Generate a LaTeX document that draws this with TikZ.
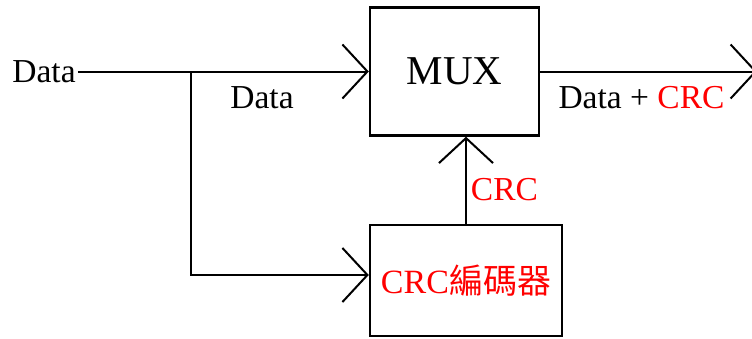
\documentclass[tikz,border=0pt]{standalone}
\usepackage{fontspec}
\setmainfont{Liberation Serif}
\newfontfamily\cjk{Noto Sans CJK TC}
\usetikzlibrary{arrows.meta,calc}
\begin{document}
\begin{tikzpicture}[x=1pt,y=-1pt,
  box/.style={draw,line width=2.4pt,inner sep=0pt,font=\fontsize{34}{40}\selectfont},
  lbl/.style={inner sep=2pt,font=\fontsize{33.5}{40}\selectfont},
  arr/.style={line width=2pt,-{Straight Barb[length=25pt,width=54pt,line width=2pt]}},
  ln/.style={line width=2pt}]
\useasboundingbox (0,0) rectangle (752,338);
\node[box,minimum width=169pt,minimum height=128pt,font=\fontsize{41}{48}\selectfont] (mux) at (454.5,71.5) {MUX};
\node[box,minimum width=192pt,minimum height=111pt,text=red] (enc) at (466,280.5) {CRC{\cjk 編碼器}};
\node[lbl,anchor=base] (din) at (44,82) {Data};
\node[lbl,anchor=base] (dlab) at (262,108) {Data};
\node[lbl,anchor=base] (olab) at (641.5,108) {Data + \textcolor{red}{CRC}};
\node[lbl,anchor=base,text=red] (clab) at (504.5,200) {CRC};
\coordinate (br) at (191,71.5);
\coordinate (out) at (757,71.5);
\draw[arr] (din.east |- mux.west) -- (mux.west);
\draw[arr] (br) |- ([yshift=5.5pt]enc.west);
\draw[arr] (mux.east) -- (out);
\draw[arr] (enc.north) -- (enc.north |- mux.south);
\end{tikzpicture}
\end{document}
